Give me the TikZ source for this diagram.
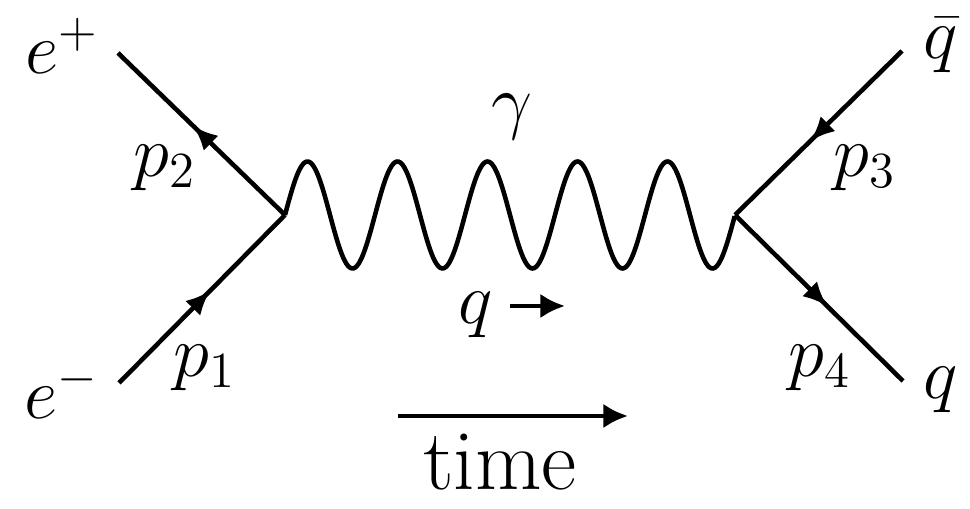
\documentclass[tikz,border=0pt]{standalone}
\usepackage{amsmath}
\usetikzlibrary{arrows.meta, decorations.markings, calc}

\begin{document}
\begin{tikzpicture}[
    fermion/.style={line width=1.3pt, postaction={decorate},
      decoration={markings, mark=at position 0.55 with {\arrow{Latex[length=7pt,width=6pt]}}}},
    photon/.style={line width=1.3pt},
    lbl/.style={font=\fontsize{21}{25}\selectfont, inner sep=0pt},
    timearrow/.style={line width=1.3pt, -{Latex[length=7pt,width=7pt]}}
  ]
  \useasboundingbox (0,0) rectangle (9.7,5.09);

  % vertices and external legs
  \coordinate (vL) at (2.85,2.94);
  \coordinate (vR) at (7.35,2.94);
  \coordinate (ep) at (1.18,4.56);
  \coordinate (em) at (1.19,1.26);
  \coordinate (qb) at (9.02,4.58);
  \coordinate (qq) at (9.03,1.28);

  \draw[fermion] (em) -- (vL);
  \draw[fermion] (vL) -- (ep);
  \draw[fermion] (qb) -- (vR);
  \draw[fermion] (vR) -- (qq);
  % photon: five full periods between the vertices
  \draw[photon] let \p1=(vL), \p2=(vR) in
    plot[variable=\t, domain=0:1, samples=250, smooth]
    ({\x1+(\x2-\x1)*\t}, {\y1+0.535cm*sin(\t*1800)});

  % particle labels
  \node[lbl] (lep) at (0.62,4.63) {$e^+$};
  \node[lbl] (lem) at (0.62,1.18) {$e^-$};
  \node[lbl] (lqb) at (9.41,4.64) {$\bar{q}$};
  \node[lbl] (lqq) at (9.41,1.19) {$q$};
  \node[lbl] (lga) at (5.12,3.92) {$\gamma$};

  % momenta
  \node[lbl] (p2) at (1.65,3.41) {$p_2$};
  \node[lbl] (p1) at (2.05,1.41) {$p_1$};
  \node[lbl] (p3) at (8.65,3.41) {$p_3$};
  \node[lbl] (p4) at (8.20,1.41) {$p_4$};

  \node[lbl] (lq) at (4.76,1.94) {$q$};
  \coordinate (qs) at (5.10,2.03);
  \coordinate (qe) at (5.65,2.03);
  \draw[timearrow] (qs) -- (qe);

  % time direction
  \coordinate (ts) at (3.98,0.93);
  \coordinate (te) at (6.28,0.93);
  \draw[timearrow] (ts) -- (te);
  \node[font=\fontsize{24.5}{28}\selectfont, inner sep=0pt] (time) at (5.00,0.47) {time};
\end{tikzpicture}
\end{document}
